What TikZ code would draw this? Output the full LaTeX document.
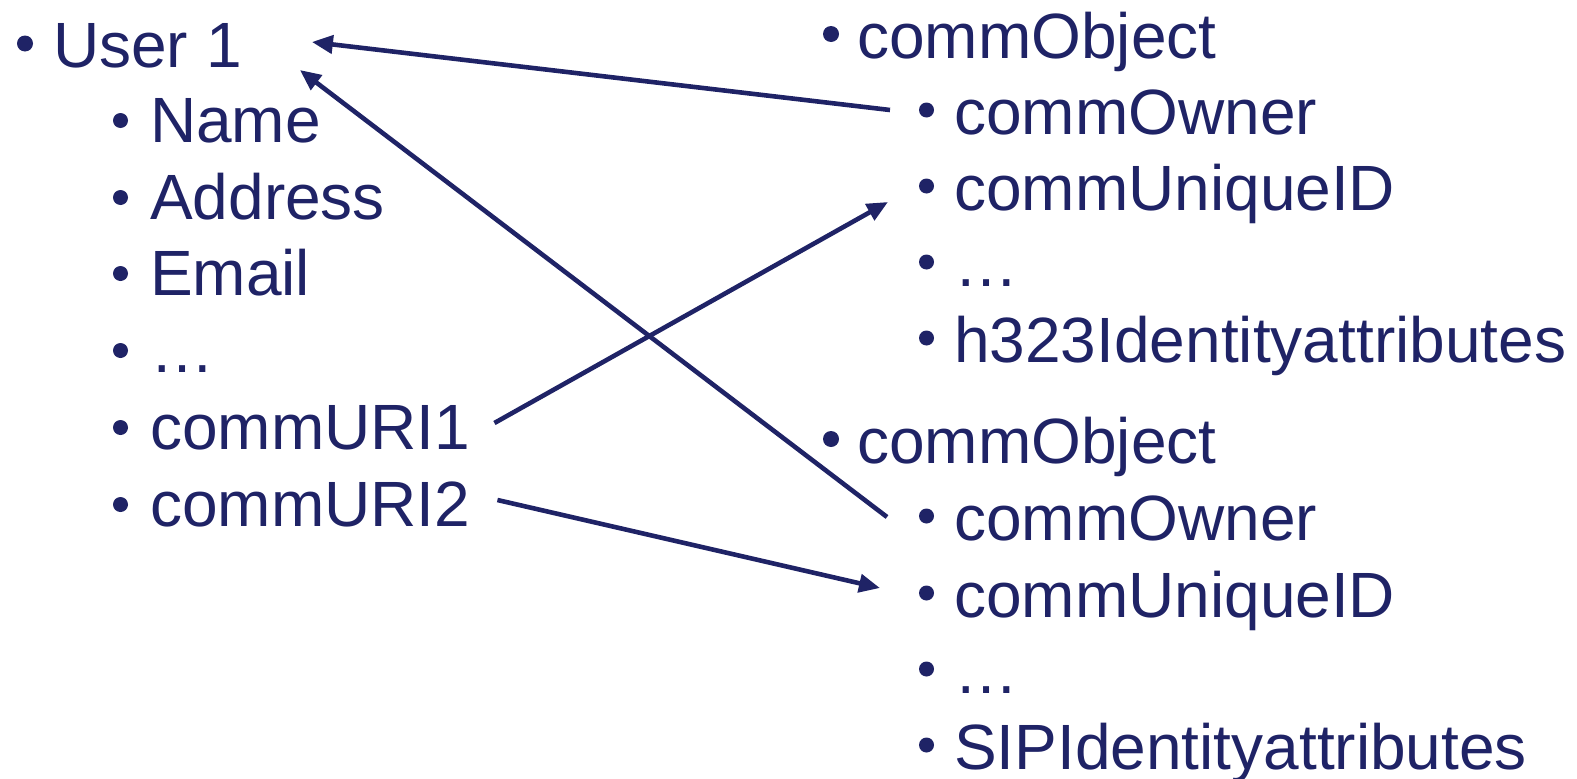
\documentclass[tikz,border=0pt]{standalone}
\usepackage{fontspec}
\setmainfont{Liberation Sans}
\usetikzlibrary{arrows.meta,calc}
\definecolor{navy}{RGB}{31,35,102}
\tikzset{
  item/.style={anchor=base west,inner sep=0pt,text=navy,font=\fontsize{64}{76}\selectfont},
  conn/.style={draw=navy,line width=4.6pt,-{Triangle[length=21pt,width=18pt]}},
  bul/.style={fill=navy}
}
\begin{document}
\begin{tikzpicture}[x=1pt,y=-1pt]
\useasboundingbox (0,0) rectangle (1577,779);
% left column
\node[item] (user) at (53,67) {User 1};
\node[item] (name) at (150,142) {Name};
\node[item] (addr) at (150,219) {Address};
\node[item] (email) at (150,295) {Email};
\node[item] (dots1) at (150,372) {…};
\node[item] (uri1) at (150,449) {commURI1};
\node[item] (uri2) at (150,526) {commURI2};
\fill[bul] (25,43.5) circle (8);
\foreach \y in {142,219,295,372,449,526} \fill[bul] (120.5,\y-21.5) circle (7.5);
% right column, first object
\node[item] (obj1) at (857,58) {commObject};
\node[item] (owner1) at (954,134) {commOwner};
\node[item] (uid1) at (954,210) {commUniqueID};
\node[item] (dots2) at (954,286) {…};
\node[item] (h323) at (954,362) {h323Identityattributes};
% right column, second object
\node[item] (obj2) at (857,463) {commObject};
\node[item] (owner2) at (954,540) {commOwner};
\node[item] (uid2) at (954,617) {commUniqueID};
\node[item] (dots3) at (954,693) {…};
\node[item] (sip) at (954,769) {SIPIdentityattributes};
\fill[bul] (831,34) circle (8);
\fill[bul] (831,439) circle (8);
\foreach \y in {134,210,286,362,540,617,693,769} \fill[bul] (926.5,\y-24) circle (7.5);
% connectors
\draw[conn] ($(owner1.base west)+(-64,-24)$) -- ($(user.base east)+(70,-25)$);
\draw[conn] ($(owner2.base west)+(-67,-23)$) -- ($(user.base east)+(58,3)$);
\draw[conn] ($(uri1.base east)+(24,-26)$) -- ($(uid1.base west)+(-66,-8)$);
\draw[conn] ($(uri2.base east)+(27,-26)$) -- ($(uid2.base west)+(-74,-29)$);
\end{tikzpicture}
\end{document}
